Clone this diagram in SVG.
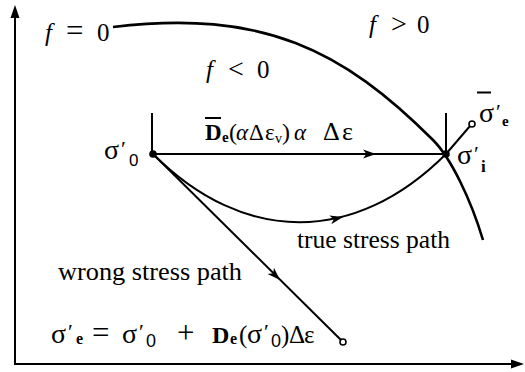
<svg xmlns="http://www.w3.org/2000/svg" width="525" height="372" viewBox="0 0 525 372">
<style>
text{font-family:"Liberation Serif","Times New Roman",serif;fill:#000}
.it{font-style:italic}
.b{font-weight:bold}
.sans{font-family:"Liberation Sans",Arial,sans-serif}
.ln{fill:none;stroke:#000;stroke-width:2}
.thick{fill:none;stroke:#000;stroke-width:2.6}
</style>
<defs>
<path id="ah" d="M0,0 L-13,-4.5 L-9.5,0 L-13,4.5 Z" fill="#000"/>
<path id="axh" d="M0,0 L-13,-4.5 L-13,4.5 Z" fill="#000"/>
</defs>
<g id="axes">
<line class="ln" x1="15" y1="364" x2="15" y2="14"/>
<line class="ln" x1="14" y1="364" x2="513" y2="364"/>
<use href="#axh" transform="translate(15,5) rotate(-90)"/>
<use href="#axh" transform="translate(524,364)"/>
</g>
<g id="yield-surface">
<path class="thick" d="M113,27 C263,9 343,50 433,140 C451,158 471,200 483,240"/>
<text x="45" y="41" font-size="25"><tspan class="it">f</tspan><tspan x="66" font-size="31">=</tspan><tspan x="97">0</tspan></text>
<text x="206" y="78" font-size="25"><tspan class="it">f</tspan><tspan x="228" font-size="28">&lt;</tspan><tspan x="257">0</tspan></text>
<text x="369" y="33" font-size="25"><tspan class="it">f</tspan><tspan x="391" font-size="28">&gt;</tspan><tspan x="417">0</tspan></text>
</g>
<g id="connectors">
<line class="ln" x1="153" y1="154" x2="446" y2="154"/>
<use href="#ah" transform="translate(376,154)"/>
<path class="ln" d="M153,154 C244,245 355,245 446,154"/>
<use href="#ah" transform="translate(343,217) rotate(-13)"/>
<line class="ln" x1="153" y1="154" x2="341" y2="340"/>
<use href="#ah" transform="translate(280,280) rotate(44.7)"/>
<line class="ln" x1="446" y1="154" x2="470" y2="126"/>
</g>
<g id="sigma0">
<line class="ln" x1="152" y1="113" x2="152" y2="154"/>
<circle cx="153" cy="154" r="3.8" fill="#000"/>
<text x="104" y="159" font-size="28">σ<tspan x="121" y="156" font-size="22">′</tspan><tspan class="sans" x="129" y="166" font-size="17">0</tspan></text>
</g>
<g id="sigmai">
<line class="ln" x1="446" y1="113" x2="446" y2="154"/>
<circle cx="446" cy="154" r="3.8" fill="#000"/>
<text x="457" y="164" font-size="28">σ<tspan x="474" y="161" font-size="22">′</tspan><tspan x="481" y="172" font-size="17" class="b">i</tspan></text>
</g>
<g id="sigmae-bar">
<circle cx="472" cy="124" r="3" fill="#fff" stroke="#000" stroke-width="1.6"/>
<line x1="477" y1="92.5" x2="491" y2="92.5" stroke="#000" stroke-width="2"/>
<text x="479" y="122" font-size="28">σ<tspan x="496" y="119" font-size="22">′</tspan><tspan x="502" y="126" font-size="15" class="b">e</tspan></text>
</g>
<g id="label-increment">
<line x1="205" y1="118" x2="221" y2="118" stroke="#000" stroke-width="2"/>
<text x="205" y="140" font-size="23"><tspan class="b">D</tspan><tspan class="b" x="222" y="142" font-size="15">e</tspan><tspan x="229" y="140" font-size="24">(</tspan><tspan class="it" x="236">α</tspan><tspan x="249">Δ</tspan><tspan x="265">ε</tspan><tspan x="275" y="143" font-size="14">v</tspan><tspan x="282" y="140" font-size="24">)</tspan><tspan class="it" x="294">α</tspan><tspan x="323" font-size="26">Δ</tspan><tspan x="342" font-size="26">ε</tspan></text>
</g>
<g id="true-path-label">
<text x="297" y="248" font-size="25" textLength="153" lengthAdjust="spacingAndGlyphs">true stress path</text>
</g>
<g id="wrong-path">
<circle cx="343" cy="342" r="3" fill="#fff" stroke="#000" stroke-width="1.6"/>
<text x="58" y="280" font-size="25" textLength="184" lengthAdjust="spacingAndGlyphs">wrong stress path</text>
</g>
<g id="equation">
<text x="51" y="343" font-size="28">σ<tspan x="68" y="339" font-size="22">′</tspan><tspan class="b" x="76" y="344" font-size="16">e</tspan><tspan x="92" y="343" font-size="31">=</tspan><tspan x="122" y="343">σ</tspan><tspan x="139" y="339" font-size="22">′</tspan><tspan class="sans" x="146" y="347" font-size="18">0</tspan><tspan x="177" y="343" font-size="31">+</tspan><tspan class="b" x="212" y="343" font-size="24">D</tspan><tspan class="b" x="230" y="344" font-size="16">e</tspan><tspan x="239" y="343" font-size="25">(</tspan><tspan x="247" y="343">σ</tspan><tspan x="264" y="339" font-size="22">′</tspan><tspan class="sans" x="271" y="347" font-size="18">0</tspan><tspan x="281" y="343" font-size="25">)</tspan><tspan x="289" y="343" font-size="25">Δ</tspan><tspan x="304" y="343" font-size="25">ε</tspan></text>
</g>
</svg>
